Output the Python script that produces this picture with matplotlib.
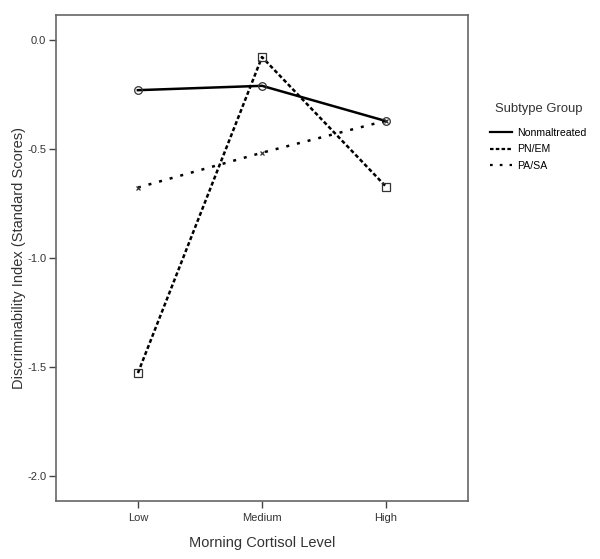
import matplotlib
matplotlib.use("Agg")
import matplotlib.pyplot as plt

plt.rcParams['font.family'] = ['Liberation Sans', 'DejaVu Sans']

levels = ["Low", "Medium", "High"]
nonmaltreated = [-0.23, -0.21, -0.372]
pn_em = [-1.528, -0.078, -0.673]
pa_sa = [-0.677, -0.517, -0.37]

fig = plt.figure(figsize=(6.0, 5.59), dpi=100)
ax = fig.add_axes([0.0933, 0.1038, 0.6867, 0.8694])

x = range(len(levels))
ax.plot(x, nonmaltreated, color="black", lw=1.8, marker="o", ms=5.5,
        mfc="none", mec="#333333", mew=0.9, label="Nonmaltreated")
ax.plot(x, pn_em, color="black", lw=1.8, dashes=(1.6, 1.0), marker="s", ms=5.2,
        mfc="none", mec="#333333", mew=0.9, label="PN/EM")
ax.plot(x, pa_sa, color="black", lw=1.8, dashes=(1.2, 3.2), marker="x", ms=3.5,
        mec="#333333", mew=0.9, label="PA/SA")

ax.set_xlim(-0.66, 2.66)
ax.set_ylim(-2.115, 0.115)
ax.set_xticks(list(x))
ax.set_xticklabels(levels)
ax.set_yticks([0.0, -0.5, -1.0, -1.5, -2.0])
ax.set_yticklabels(["0.0", "-0.5", "-1.0", "-1.5", "-2.0"])
ax.tick_params(axis="both", direction="out", length=5, width=1.0,
               color="#444444", labelsize=8, labelcolor="#333333", pad=2)
ax.tick_params(axis="x", pad=4)

for s in ax.spines.values():
    s.set_color("#666666")
    s.set_linewidth(1.2)

ax.set_xlabel("Morning Cortisol Level", fontsize=10.5, color="#333333", labelpad=9)
ax.set_ylabel("Discriminability Index (Standard Scores)", fontsize=10.5,
              color="#333333", labelpad=1)

leg = fig.legend(loc="upper left", bbox_to_anchor=(0.801, 0.832), frameon=False,
                 title="Subtype Group", fontsize=7.6, title_fontsize=9.4,
                 handlelength=2.1, handletextpad=0.5, labelspacing=0.6,
                 markerscale=0)
leg._legend_box.sep = 9
for h in leg.legend_handles:
    h.set_marker("")
    h.set_linewidth(1.6)
leg.get_title().set_color("#333333")

fig.savefig("out.png", dpi=100)
